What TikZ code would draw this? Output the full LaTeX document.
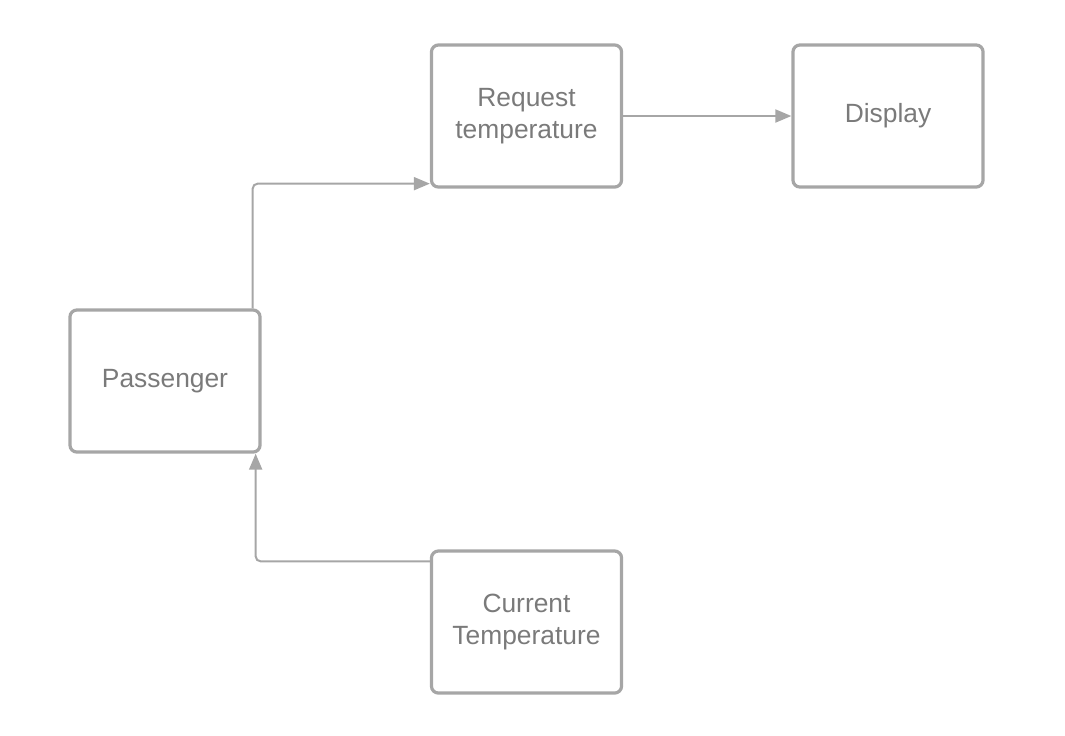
\documentclass[tikz,border=0pt]{standalone}
\usepackage{fontspec}
\setmainfont{Liberation Sans}
\usetikzlibrary{arrows.meta}
\definecolor{boxgray}{HTML}{A6A6A6}
\definecolor{textgray}{HTML}{7A7A7A}
\tikzset{
    block/.style={draw=boxgray, line width=0.032cm, rounded corners=0.07cm,
        minimum width=1.9cm, minimum height=1.42cm, align=center,
        text=textgray, font=\fontsize{7.5}{9}\selectfont},
    conn/.style={draw=boxgray, line width=0.02cm, rounded corners=0.05cm,
        -{Triangle[length=0.16cm,width=0.13cm]}}
}
\begin{document}
\begin{tikzpicture}[x=0.01cm, y=-0.01cm]
            \useasboundingbox (0,0) rectangle (1065,735);
            \node[block] (req)  at (526.5,116) {Request\\temperature};
            \node[block] (disp) at (888,116)   {Display};
            \node[block] (pass) at (165,381)   {Passenger};
            \node[block] (cur)  at (526.5,622) {Current\\Temperature};
            \draw[conn] ([xshift=-0.09cm]pass.north east) |- ([yshift=0.05cm]req.south west);
            \draw[conn] (req) -- (disp);
            \draw[conn] ([yshift=-0.12cm]cur.north west) -| ([xshift=-0.06cm]pass.south east);
        \end{tikzpicture}
\end{document}
